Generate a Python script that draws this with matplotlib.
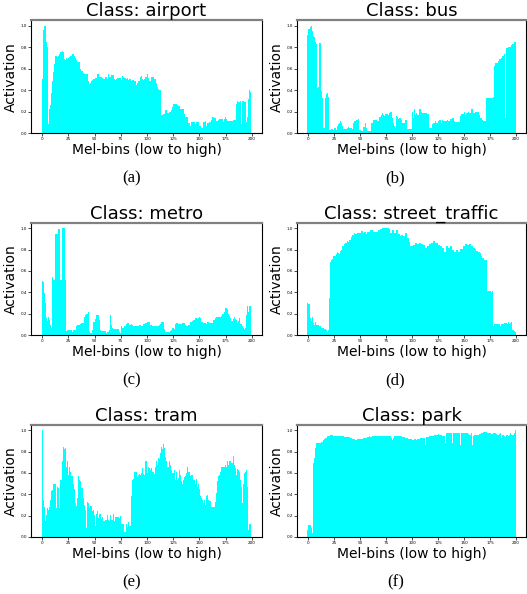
import numpy as np
import matplotlib
matplotlib.use("Agg")
import matplotlib.pyplot as plt

# activation per mel-bin (200 bins)
airport = [
    0.50, 0.96, 1.00, 1.00, 0.85, 0.80, 0.08, 0.22, 0.26, 0.37,
    0.48, 0.57, 0.64, 0.72, 0.72, 0.71, 0.72, 0.74, 0.75, 0.76,
    0.75, 0.69, 0.68, 0.70, 0.69, 0.70, 0.71, 0.72, 0.72, 0.74,
    0.74, 0.72, 0.70, 0.68, 0.66, 0.66, 0.66, 0.60, 0.58, 0.56,
    0.55, 0.55, 0.55, 0.55, 0.48, 0.46, 0.47, 0.48, 0.49, 0.50,
    0.50, 0.51, 0.51, 0.55, 0.55, 0.52, 0.52, 0.52, 0.51, 0.50,
    0.52, 0.52, 0.50, 0.55, 0.52, 0.52, 0.54, 0.54, 0.54, 0.50,
    0.49, 0.50, 0.51, 0.51, 0.51, 0.51, 0.49, 0.53, 0.52, 0.51,
    0.50, 0.51, 0.49, 0.50, 0.50, 0.48, 0.49, 0.49, 0.48, 0.48,
    0.45, 0.47, 0.48, 0.48, 0.52, 0.53, 0.50, 0.49, 0.50, 0.52,
    0.55, 0.51, 0.48, 0.48, 0.52, 0.52, 0.52, 0.50, 0.50, 0.47,
    0.43, 0.41, 0.40, 0.40, 0.17, 0.17, 0.18, 0.18, 0.21, 0.21,
    0.19, 0.20, 0.20, 0.21, 0.24, 0.27, 0.27, 0.27, 0.27, 0.26,
    0.25, 0.25, 0.22, 0.22, 0.22, 0.22, 0.18, 0.15, 0.15, 0.15,
    0.09, 0.07, 0.10, 0.10, 0.10, 0.10, 0.08, 0.10, 0.10, 0.10,
    0.07, 0.065, 0.05, 0.05, 0.10, 0.10, 0.11, 0.07, 0.09, 0.09,
    0.10, 0.12, 0.145, 0.145, 0.14, 0.14, 0.115, 0.115, 0.12, 0.13,
    0.13, 0.13, 0.13, 0.105, 0.13, 0.145, 0.13, 0.11, 0.11, 0.11,
    0.11, 0.11, 0.12, 0.12, 0.12, 0.27, 0.30, 0.29, 0.29, 0.30,
    0.08, 0.30, 0.30, 0.29, 0.29, 0.10, 0.15, 0.32, 0.40, 0.38,
]

bus = [
    0.91, 0.97, 0.99, 1.00, 0.95, 0.90, 0.89, 0.85, 0.83, 0.42,
    0.43, 0.84, 0.84, 0.39, 0.33, 0.05, 0.05, 0.33, 0.36, 0.37,
    0.34, 0.03, 0.025, 0.04, 0.04, 0.025, 0.045, 0.03, 0.07, 0.08,
    0.09, 0.11, 0.09, 0.07, 0.04, 0.04, 0.04, 0.04, 0.05, 0.06,
    0.05, 0.05, 0.05, 0.04, 0.09, 0.11, 0.11, 0.12, 0.125, 0.13,
    0.03, 0.015, 0.015, 0.055, 0.06, 0.09, 0.05, 0.015, 0.015, 0.015,
    0.015, 0.09, 0.09, 0.12, 0.125, 0.125, 0.125, 0.11, 0.11, 0.15,
    0.15, 0.17, 0.19, 0.17, 0.16, 0.18, 0.18, 0.17, 0.19, 0.20,
    0.20, 0.14, 0.09, 0.07, 0.05, 0.155, 0.15, 0.13, 0.14, 0.14,
    0.125, 0.09, 0.09, 0.09, 0.125, 0.125, 0.04, 0.04, 0.04, 0.04,
    0.20, 0.14, 0.22, 0.17, 0.19, 0.17, 0.17, 0.22, 0.22, 0.20,
    0.19, 0.19, 0.19, 0.19, 0.19, 0.18, 0.18, 0.05, 0.05, 0.05,
    0.08, 0.09, 0.09, 0.11, 0.09, 0.11, 0.125, 0.125, 0.09, 0.12,
    0.11, 0.11, 0.11, 0.11, 0.125, 0.115, 0.115, 0.13, 0.13, 0.14,
    0.14, 0.11, 0.10, 0.10, 0.10, 0.10, 0.10, 0.155, 0.18, 0.18,
    0.20, 0.17, 0.19, 0.19, 0.20, 0.19, 0.19, 0.22, 0.22, 0.19,
    0.19, 0.20, 0.20, 0.20, 0.20, 0.17, 0.14, 0.14, 0.125, 0.11,
    0.11, 0.11, 0.33, 0.33, 0.33, 0.33, 0.33, 0.33, 0.34, 0.62,
    0.65, 0.65, 0.65, 0.67, 0.69, 0.69, 0.70, 0.72, 0.72, 0.74,
    0.14, 0.79, 0.79, 0.80, 0.80, 0.80, 0.82, 0.83, 0.85, 0.85,
]

metro = [
    0.51, 0.50, 0.39, 0.30, 0.16, 0.13, 0.17, 0.14, 0.09, 0.07,
    0.54, 0.52, 0.52, 0.95, 0.95, 0.95, 0.99, 0.99, 0.52, 1.00,
    1.00, 1.00, 0.52, 0.04, 0.045, 0.045, 0.045, 0.045, 0.045, 0.03,
    0.05, 0.05, 0.05, 0.085, 0.09, 0.09, 0.09, 0.10, 0.11, 0.11,
    0.17, 0.19, 0.20, 0.20, 0.22, 0.04, 0.02, 0.02, 0.045, 0.125,
    0.125, 0.15, 0.19, 0.19, 0.19, 0.14, 0.05, 0.04, 0.04, 0.04,
    0.04, 0.02, 0.03, 0.03, 0.045, 0.19, 0.09, 0.07, 0.06, 0.055,
    0.055, 0.055, 0.055, 0.06, 0.03, 0.02, 0.085, 0.07, 0.07, 0.085,
    0.10, 0.11, 0.11, 0.09, 0.09, 0.10, 0.09, 0.085, 0.085, 0.085,
    0.08, 0.08, 0.08, 0.09, 0.09, 0.085, 0.085, 0.10, 0.10, 0.115,
    0.125, 0.125, 0.12, 0.09, 0.09, 0.085, 0.08, 0.08, 0.08, 0.08,
    0.08, 0.085, 0.09, 0.10, 0.125, 0.125, 0.125, 0.06, 0.03, 0.03,
    0.03, 0.03, 0.04, 0.045, 0.07, 0.065, 0.06, 0.10, 0.11, 0.11,
    0.10, 0.10, 0.10, 0.10, 0.115, 0.115, 0.11, 0.09, 0.08, 0.08,
    0.09, 0.125, 0.125, 0.135, 0.14, 0.14, 0.155, 0.155, 0.15, 0.16,
    0.165, 0.155, 0.125, 0.125, 0.11, 0.115, 0.115, 0.10, 0.125, 0.125,
    0.115, 0.115, 0.115, 0.14, 0.14, 0.155, 0.17, 0.17, 0.17, 0.17,
    0.17, 0.18, 0.20, 0.20, 0.22, 0.25, 0.25, 0.24, 0.20, 0.18,
    0.155, 0.135, 0.15, 0.165, 0.15, 0.14, 0.11, 0.13, 0.155, 0.10,
    0.10, 0.085, 0.07, 0.06, 0.07, 0.19, 0.27, 0.22, 0.27, 0.27,
]

street_traffic = [
    0.30, 0.29, 0.16, 0.135, 0.165, 0.115, 0.09, 0.125, 0.09, 0.09,
    0.09, 0.08, 0.08, 0.07, 0.07, 0.07, 0.06, 0.06, 0.045, 0.03,
    0.045, 0.35, 0.68, 0.70, 0.71, 0.74, 0.74, 0.76, 0.78, 0.77,
    0.76, 0.79, 0.80, 0.83, 0.83, 0.85, 0.86, 0.86, 0.88, 0.87,
    0.89, 0.89, 0.92, 0.94, 0.94, 0.96, 0.95, 0.95, 0.96, 0.96,
    0.96, 0.975, 0.975, 0.96, 0.97, 0.97, 0.95, 0.97, 0.97, 0.97,
    0.98, 0.98, 0.98, 0.97, 0.97, 0.97, 0.97, 0.97, 0.98, 0.98,
    0.99, 0.99, 1.00, 1.00, 1.00, 1.00, 1.00, 1.00, 0.99, 0.96,
    0.96, 0.98, 0.98, 0.96, 0.96, 0.98, 0.98, 0.95, 0.95, 0.93,
    0.94, 0.94, 0.925, 0.925, 0.96, 0.96, 0.91, 0.91, 0.87, 0.83,
    0.83, 0.84, 0.84, 0.86, 0.86, 0.85, 0.85, 0.86, 0.86, 0.85,
    0.85, 0.84, 0.84, 0.815, 0.815, 0.83, 0.83, 0.85, 0.85, 0.86,
    0.86, 0.88, 0.88, 0.86, 0.86, 0.84, 0.84, 0.83, 0.83, 0.815,
    0.815, 0.78, 0.78, 0.83, 0.83, 0.82, 0.82, 0.83, 0.83, 0.80,
    0.80, 0.78, 0.78, 0.80, 0.80, 0.78, 0.78, 0.805, 0.805, 0.83,
    0.83, 0.85, 0.85, 0.84, 0.84, 0.85, 0.85, 0.83, 0.83, 0.815,
    0.815, 0.805, 0.79, 0.79, 0.78, 0.78, 0.77, 0.74, 0.72, 0.72,
    0.705, 0.70, 0.70, 0.41, 0.41, 0.41, 0.40, 0.41, 0.08, 0.10,
    0.10, 0.10, 0.10, 0.10, 0.10, 0.08, 0.10, 0.10, 0.10, 0.115,
    0.115, 0.115, 0.10, 0.125, 0.10, 0.11, 0.125, 0.05, 0.04, 0.03,
]

tram = [
    1.00, 0.35, 0.28, 0.15, 0.21, 0.27, 0.255, 0.28, 0.35, 0.43,
    0.44, 0.50, 0.50, 0.50, 0.27, 0.47, 0.46, 0.27, 0.535, 0.71,
    0.84, 0.82, 0.83, 0.66, 0.71, 0.58, 0.66, 0.61, 0.57, 0.57,
    0.50, 0.45, 0.32, 0.29, 0.365, 0.57, 0.535, 0.52, 0.46, 0.365,
    0.30, 0.255, 0.085, 0.33, 0.32, 0.27, 0.29, 0.29, 0.24, 0.255,
    0.21, 0.10, 0.22, 0.24, 0.18, 0.22, 0.22, 0.17, 0.19, 0.15,
    0.16, 0.16, 0.21, 0.16, 0.15, 0.21, 0.16, 0.16, 0.22, 0.15,
    0.19, 0.19, 0.19, 0.19, 0.18, 0.20, 0.125, 0.125, 0.125, 0.05,
    0.125, 0.09, 0.14, 0.105, 0.10, 0.38, 0.535, 0.54, 0.61, 0.61,
    0.61, 0.56, 0.58, 0.59, 0.58, 0.60, 0.645, 0.59, 0.58, 0.715,
    0.60, 0.66, 0.645, 0.63, 0.645, 0.61, 0.61, 0.59, 0.66, 0.71,
    0.675, 0.74, 0.73, 0.785, 0.84, 0.82, 0.87, 0.83, 0.75, 0.71,
    0.66, 0.71, 0.675, 0.63, 0.60, 0.60, 0.625, 0.535, 0.61, 0.535,
    0.55, 0.625, 0.58, 0.52, 0.50, 0.535, 0.56, 0.57, 0.60, 0.66,
    0.61, 0.57, 0.58, 0.58, 0.535, 0.535, 0.50, 0.54, 0.47, 0.50,
    0.45, 0.38, 0.365, 0.35, 0.32, 0.35, 0.30, 0.38, 0.395, 0.35,
    0.34, 0.28, 0.28, 0.28, 0.28, 0.33, 0.41, 0.52, 0.57, 0.58,
    0.61, 0.66, 0.655, 0.655, 0.655, 0.675, 0.655, 0.71, 0.675, 0.71,
    0.71, 0.69, 0.755, 0.675, 0.645, 0.58, 0.635, 0.625, 0.61, 0.535,
    0.47, 0.32, 0.50, 0.60, 0.61, 0.63, 0.47, 0.07, 0.125, 0.125,
]

park = [
    0.07, 0.11, 0.115, 0.085, 0.04, 0.69, 0.74, 0.83, 0.88, 0.885,
    0.885, 0.885, 0.88, 0.89, 0.89, 0.91, 0.92, 0.925, 0.93, 0.945,
    0.95, 0.95, 0.96, 0.96, 0.955, 0.95, 0.95, 0.95, 0.95, 0.95,
    0.945, 0.95, 0.95, 0.95, 0.945, 0.94, 0.94, 0.94, 0.94, 0.935,
    0.935, 0.93, 0.93, 0.92, 0.915, 0.915, 0.91, 0.91, 0.915, 0.915,
    0.915, 0.92, 0.92, 0.925, 0.925, 0.93, 0.93, 0.94, 0.94, 0.945,
    0.94, 0.94, 0.945, 0.95, 0.95, 0.945, 0.95, 0.95, 0.95, 0.945,
    0.95, 0.95, 0.95, 0.95, 0.945, 0.95, 0.95, 0.95, 0.95, 0.95,
    0.925, 0.91, 0.93, 0.945, 0.95, 0.95, 0.95, 0.945, 0.95, 0.95,
    0.95, 0.94, 0.935, 0.935, 0.93, 0.93, 0.925, 0.92, 0.915, 0.915,
    0.91, 0.91, 0.915, 0.915, 0.91, 0.915, 0.92, 0.92, 0.925, 0.925,
    0.93, 0.93, 0.925, 0.86, 0.935, 0.94, 0.94, 0.945, 0.945, 0.95,
    0.95, 0.95, 0.955, 0.96, 0.96, 0.965, 0.96, 0.96, 0.955, 0.95,
    0.95, 0.95, 0.88, 0.97, 0.97, 0.975, 0.97, 0.97, 0.97, 0.88,
    0.97, 0.975, 0.97, 0.97, 0.97, 0.975, 0.97, 0.86, 0.97, 0.97,
    0.975, 0.97, 0.97, 0.97, 0.965, 0.96, 0.96, 0.97, 0.86, 0.95,
    0.955, 0.96, 0.96, 0.96, 0.96, 0.965, 0.965, 0.97, 0.975, 0.98,
    0.98, 0.985, 0.98, 0.975, 0.97, 0.97, 0.965, 0.965, 0.97, 0.975,
    0.97, 0.965, 0.96, 0.96, 0.965, 0.97, 0.93, 0.96, 0.955, 0.95,
    0.94, 0.96, 0.955, 0.95, 0.96, 0.975, 0.955, 0.96, 0.975, 1.00,
]

classes = ["airport", "bus", "metro", "street_traffic", "tram", "park"]
series = [airport, bus, metro, street_traffic, tram, park]
captions = ["(a)", "(b)", "(c)", "(d)", "(e)", "(f)"]


def main():
    fig = plt.figure(figsize=(5.27, 5.94), dpi=100)

    lefts = [0.059, 0.5636]
    widths = [0.438, 0.4345]
    bottoms = [0.776, 0.436, 0.096]
    heights = [0.190, 0.1886, 0.1886]
    cap_y = [0.700, 0.360, 0.020]

    for k, (name, vals, cap) in enumerate(zip(classes, series, captions)):
        r, c = divmod(k, 2)
        ax = fig.add_axes([lefts[c], bottoms[r], widths[c], heights[r]])
        ax.bar(np.arange(len(vals)), vals, width=1.0, color="cyan", linewidth=0)
        ax.set_ylim(0, 1.05)
        ax.set_xticks(range(0, 201, 25))
        ax.set_yticks(np.arange(0, 1.01, 0.2))
        ax.tick_params(labelsize=3, length=2, width=0.5, pad=1)
        ax.set_title("Class: " + name, fontsize=13, pad=0.5)
        ax.set_xlabel("Mel-bins (low to high)", fontsize=10, labelpad=1)
        ax.set_ylabel("Activation", fontsize=10, labelpad=2)
        for side in ["left", "right", "bottom"]:
            ax.spines[side].set_linewidth(0.8)
        ax.spines["top"].set_color("0.5")
        ax.spines["top"].set_linewidth(1.6)
        fig.text(0.25 + 0.5 * c, cap_y[r], cap, family="Liberation Serif",
                 fontsize=12, ha="center", va="center")

    fig.savefig("out.png", dpi=100)


if __name__ == "__main__":
    main()
